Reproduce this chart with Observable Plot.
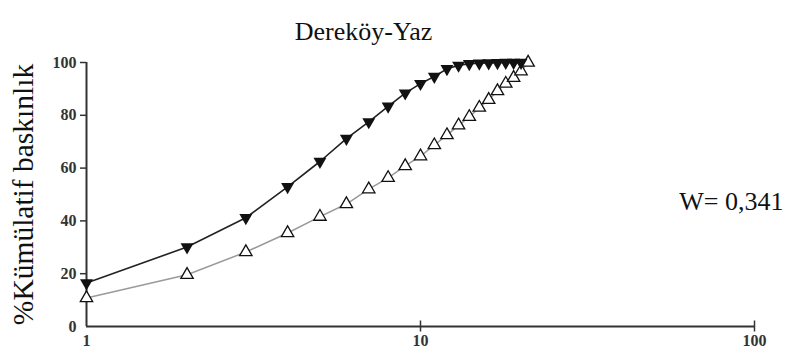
<!DOCTYPE html>
<html>
<head>
<meta charset="utf-8">
<script src="https://cdn.jsdelivr.net/npm/d3@7"></script>
<script src="https://cdn.jsdelivr.net/npm/@observablehq/plot@0.6"></script>
<style>
  html, body { margin: 0; padding: 0; background: #fff; }
  #chart svg { display: block; font-family: 'Liberation Serif', 'Times New Roman', serif; }
</style>
</head>
<body>
<div id="chart"></div>
<script>
const title = "Dereköy-Yaz";
const yLabel = "%Kümülatif baskınlık";
const statLabel = "W= 0,341";
const xTicks = [1, 10, 100];
const yTicks = [0, 20, 40, 60, 80, 100];

// species rank (x) and cumulative dominance (%) for each curve
const rankFilled = [1,2,3,4,5,6,7,8,9,10,11,12,13,14,15,16,17,18,19,20];
const valFilled  = [16.5,30.1,41.2,52.9,62.5,71.2,77.5,83.4,88.4,92.0,94.7,97.6,98.9,99.5,99.7,99.8,99.9,100,100,100];
const rankOpen = [1,2,3,4,5,6,7,8,9,10,11,12,13,14,15,16,17,18,19,20,21];
const valOpen  = [10.8,19.6,28.2,35.4,41.6,46.4,52.0,56.3,60.8,64.5,68.7,72.5,76.2,79.4,82.9,85.9,89.2,92.0,94.2,96.7,100];

const filled = rankFilled.map((r, i) => ({x: r, y: valFilled[i]}));
const open = rankOpen.map((r, i) => ({x: r, y: valOpen[i]}));

const serif = "Liberation Serif";

const chart = Plot.plot({
  width: 793,
  height: 358,
  marginLeft: 86,
  marginRight: 39,
  marginTop: 62,
  marginBottom: 32,
  style: {fontFamily: "'Liberation Serif', 'Times New Roman', serif", background: "#fff", color: "#222"},
  x: {type: "log", domain: [1, 100], label: null},
  y: {domain: [0, 100], label: null},
  marks: [
    // axis lines
    Plot.ruleY([0], {stroke: "#333", strokeWidth: 2}),
    Plot.ruleX([1], {stroke: "#333", strokeWidth: 2}),
    // x ticks crossing the axis
    Plot.axisX({ticks: xTicks.filter(d => d !== 1), tickSize: 11, dy: -5.5, text: null, label: null, stroke: "#333", strokeWidth: 1.5}),
    Plot.axisX({ticks: xTicks, tickSize: 0, tickPadding: 8, label: null, tickFormat: d => String(d), fontSize: 16, fontWeight: "bold", fill: "#333"}),
    // y ticks
    Plot.axisY({ticks: yTicks.filter(d => d !== 0), tickSize: 6, text: null, label: null, stroke: "#333", strokeWidth: 1.5}),
    Plot.axisY({ticks: yTicks, tickSize: 0, tickPadding: 10, label: null, fontSize: 16, fontWeight: "bold", fill: "#333"}),
    // curves
    Plot.line(open, {x: "x", y: "y", stroke: "#9a9a9a", strokeWidth: 1.5}),
    Plot.line(filled, {x: "x", y: "y", stroke: "#222", strokeWidth: 1.6}),
    Plot.dot(open, {x: "x", y: "y", symbol: "triangle", r: 4.6, fill: "#fff", stroke: "#111", strokeWidth: 1.3}),
    Plot.dot(filled, {x: "x", y: "y", symbol: "triangle", rotate: 180, r: 4.8, fill: "#111", stroke: "none"}),
    // texts
    Plot.text([title], {frameAnchor: "top", lineAnchor: "middle", textAnchor: "middle", dx: -57, dy: -31, fontSize: 26, fill: "#111", fontFamily: serif}),
    Plot.text([yLabel], {frameAnchor: "left", textAnchor: "middle", lineAnchor: "middle", rotate: -90, dx: -63, dy: 0, fontSize: 29.5, fill: "#111", fontFamily: serif}),
    Plot.text([statLabel], {frameAnchor: "right", textAnchor: "end", lineAnchor: "middle", dx: 29, dy: 7, fontSize: 26, fill: "#111", fontFamily: serif})
  ]
});
document.getElementById("chart").appendChild(chart);
</script>
</body>
</html>
